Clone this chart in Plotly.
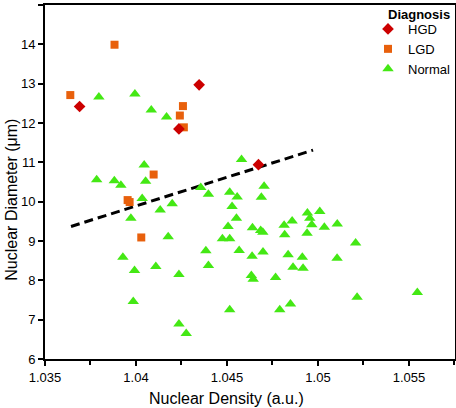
import plotly.graph_objects as go

# ---- data ----
hgd_x = [1.0369, 1.04347, 1.04236, 1.04673]
hgd_y = [12.42, 12.97, 11.85, 10.94]

lgd_x = [1.03639, 1.03882, 1.04241, 1.04258, 1.04263, 1.04097, 1.03954, 1.03965, 1.04029]
lgd_y = [12.71, 13.99, 12.19, 12.43, 11.89, 10.69, 10.04, 9.99, 9.09]

normal_x = [1.03796, 1.03994, 1.04084, 1.04168, 1.03784, 1.03881, 1.03917, 1.04045,
            1.04053, 1.04034, 1.03972, 1.04133, 1.04199, 1.04177, 1.03928, 1.03992,
            1.04109, 1.04236, 1.03985, 1.04236, 1.04276, 1.04356, 1.04398, 1.04384,
            1.04398, 1.04475, 1.04506, 1.04515, 1.04515, 1.04556, 1.04528, 1.04552,
            1.04567, 1.0458, 1.04515, 1.0464, 1.04638, 1.04634, 1.04644, 1.04689,
            1.04704, 1.04685, 1.04697, 1.04698, 1.04767, 1.0479, 1.04849, 1.04814,
            1.04817, 1.04858, 1.04942, 1.04955, 1.04966, 1.0501, 1.05035, 1.05106,
            1.0494, 1.04836, 1.04914, 1.05105, 1.05207, 1.04863, 1.04918, 1.05215,
            1.05546]
normal_y = [12.66, 12.74, 12.33, 12.15, 10.56, 10.53, 10.42, 10.93,
            10.52, 10.08, 9.58, 9.79, 9.95, 9.11, 8.59, 8.25,
            8.35, 8.15, 7.46, 6.89, 6.65, 10.36, 10.19, 8.75,
            8.38, 9.06, 9.37, 9.06, 10.24, 10.12, 9.88, 9.58,
            8.76, 11.07, 7.25, 9.34, 8.61, 8.12, 8.03, 10.11,
            10.39, 9.27, 9.22, 8.72, 8.07, 7.25, 7.40, 9.40,
            9.16, 9.51, 9.71, 9.58, 9.41, 9.75, 9.35, 9.43,
            9.20, 8.65, 8.59, 8.56, 8.95, 8.33, 8.31, 7.57,
            7.69]

line_x = [1.03643, 1.04973]
line_y = [9.37, 11.31]

x_ticks = [1.035, 1.04, 1.045, 1.05, 1.055]
x_tick_labels = ["1.035", "1.04", "1.045", "1.05", "1.055"]
y_ticks = [6, 7, 8, 9, 10, 11, 12, 13, 14, 15]

FONT = "Liberation Sans, Arial, sans-serif"
W, H = 456, 408
ML, MR, MT, MB = 45, 1, 5, 49
PW, PH = W - ML - MR, H - MT - MB

fig = go.Figure()
fig.add_trace(go.Scatter(x=line_x, y=line_y, mode="lines", showlegend=False,
                         line=dict(color="black", width=3, dash="9px,5px")))
fig.add_trace(go.Scatter(x=normal_x, y=normal_y, mode="markers", name="Normal",
                         marker=dict(symbol="triangle-up", size=10, color="#44E814",
                                     line=dict(width=0))))
fig.add_trace(go.Scatter(x=lgd_x, y=lgd_y, mode="markers", name="LGD",
                         marker=dict(symbol="square", size=8, color="#E8600C",
                                     line=dict(width=0))))
fig.add_trace(go.Scatter(x=hgd_x, y=hgd_y, mode="markers", name="HGD",
                         marker=dict(symbol="diamond", size=9, color="#CC0000",
                                     line=dict(width=0))))

fig.update_layout(
    width=W, height=H,
    margin=dict(l=ML, r=MR, t=MT, b=MB, autoexpand=False),
    plot_bgcolor="white", paper_bgcolor="white",
    font=dict(family=FONT, size=13, color="black"),
    showlegend=True,
    legend=dict(
        traceorder="reversed",
        x=(368 - ML) / PW, xanchor="left", y=1 - (14 - MT) / PH, yanchor="top",
        bgcolor="rgba(0,0,0,0)",
        font=dict(size=13),
        itemwidth=30, tracegroupgap=0,
    ),
    xaxis=dict(
        range=[1.035, 1.05753],
        tickvals=x_ticks, ticktext=x_tick_labels,
        ticks="outside", ticklen=5, tickwidth=1.5, tickcolor="black",
        minor=dict(ticks="outside", ticklen=4, tickcolor="black", dtick=0.005,
                   tick0=1.0375, tickwidth=1.5),
        showgrid=False, zeroline=False,
        showline=True, linecolor="black", linewidth=2, mirror=True,
        tickfont=dict(size=13),
    ),
    yaxis=dict(
        range=[6, 15],
        tickvals=y_ticks,
        ticks="outside", ticklen=5, tickwidth=1.5, tickcolor="black",
        showgrid=False, zeroline=False,
        showline=True, linecolor="black", linewidth=2, mirror=True,
        tickfont=dict(size=13),
    ),
)

fig.add_annotation(text="<b>Diagnosis</b>", x=(452 - ML) / PW, xref="paper",
                   xanchor="right", y=1 - (15 - MT) / PH, yref="paper",
                   yanchor="middle", showarrow=False, font=dict(size=13))
fig.add_annotation(text="Nuclear Density (a.u.)", x=1.045, xref="x",
                   y=-(398 - (H - MB)) / PH, yref="paper", showarrow=False,
                   font=dict(size=16), yanchor="middle")
fig.add_annotation(text="Nuclear Diameter (μm)", x=-(ML - 12) / PW, xref="paper",
                   y=10.05, yref="y", showarrow=False, font=dict(size=16),
                   textangle=-90, xanchor="center")

fig.write_html("out.html", config={"displayModeBar": False},
               post_script="document.body.style.margin='0';")
